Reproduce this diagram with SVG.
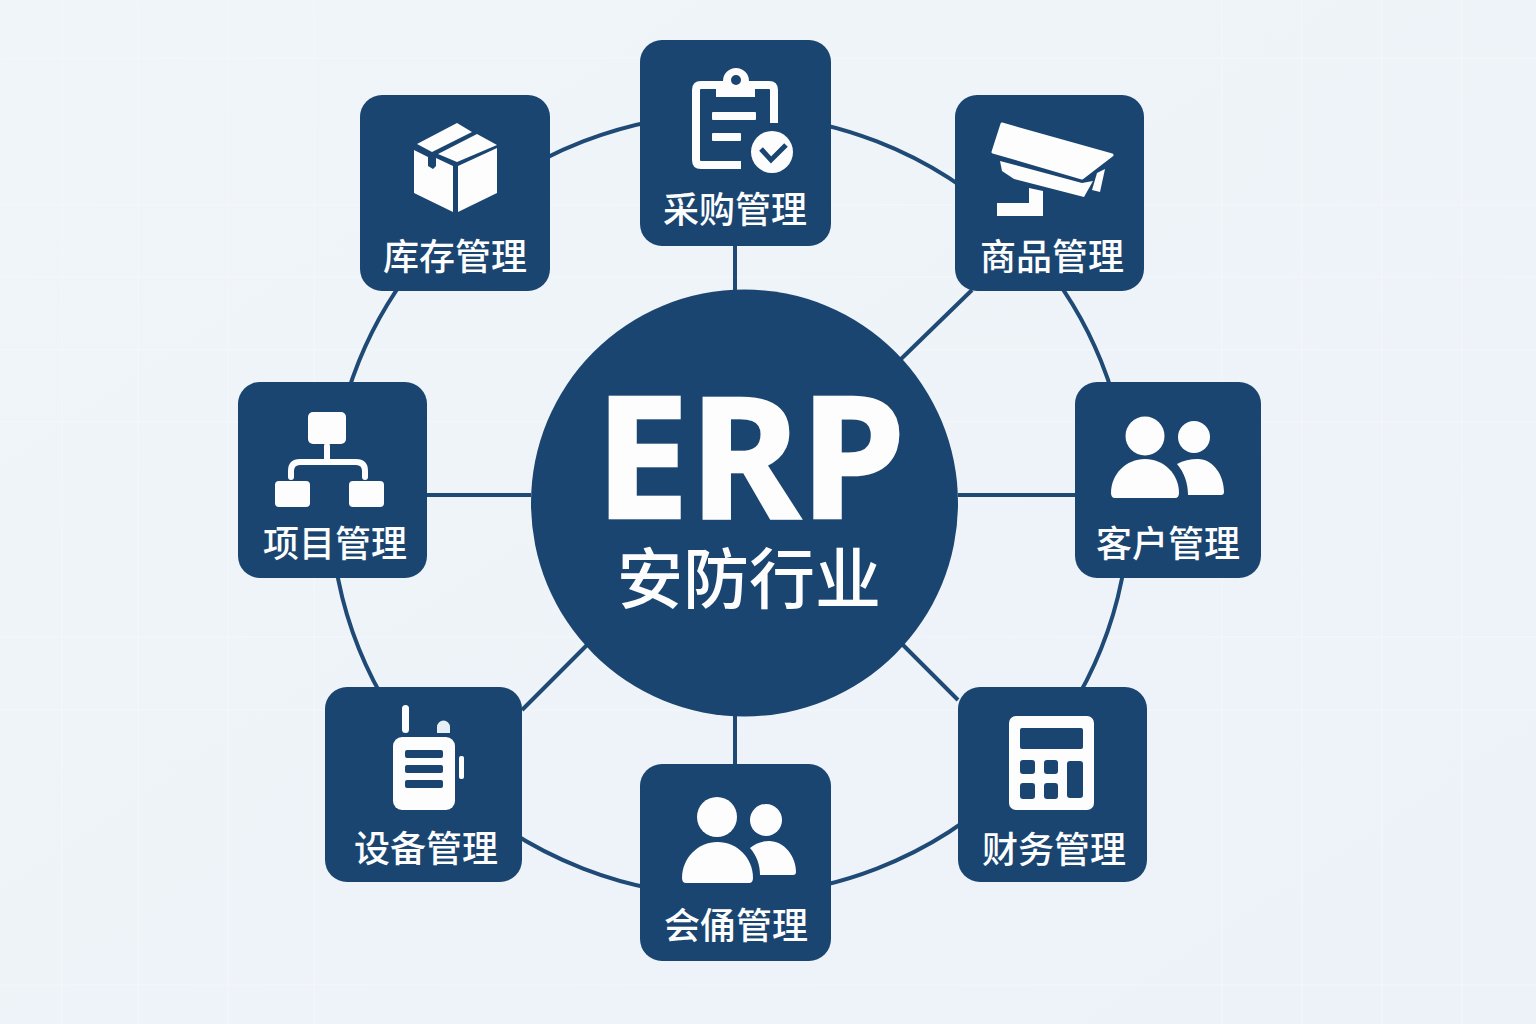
<svg xmlns="http://www.w3.org/2000/svg" width="1536" height="1024" viewBox="0 0 1536 1024">
<style>
.box{fill:#1a4570}
.lk{fill:none;stroke:#1f4a75;stroke-width:4}
.w{fill:#fdfdfe}
.d{fill:#1a4570}
.ws{fill:none;stroke:#fdfdfe}
.lbl{font-family:"Noto Sans CJK SC","Noto Sans",sans-serif;font-size:36px;font-weight:500;fill:#fdfdfe;text-anchor:middle}
</style>
<defs>
<linearGradient id="bg" x1="0" y1="0" x2="1" y2="1"><stop offset="0" stop-color="#f0f5f9"/><stop offset="1" stop-color="#edf2f9"/></linearGradient>
</defs>
<rect width="1536" height="1024" fill="url(#bg)"/>
<path fill="none" stroke="#f4f7fb" stroke-width="1" d="M62 0V1024M138 0V1024M228 0V1024M314 0V1024M1222 0V1024M1302 0V1024M1382 0V1024M1462 0V1024M0 58H1536M0 205H1536M0 277H1536M0 350H1536M0 422H1536M0 637H1536M0 710H1536M0 985H1536"/>
<g id="connectors">
<ellipse class="lk" cx="730" cy="505" rx="399" ry="391"/>
<path class="lk" d="M735 246V292M735 714V764M427 495H531M958 495H1075M972 290L900 360M587 645L522 710M903 645L958 700"/>
</g>
<g id="center">
<circle class="box" cx="744.500" cy="503" r="213.500"/>
<text x="750" y="518" font-family="'Noto Sans',sans-serif" font-size="169" font-weight="700" fill="#fdfdfe" stroke="#fdfdfe" stroke-width="2.500" text-anchor="middle">ERP</text>
<text x="749" y="603" font-family="'Noto Sans CJK SC',sans-serif" font-size="66" font-weight="500" fill="#fdfdfe" text-anchor="middle">安防行业</text>
</g>
<g id="node-purchase">
<rect class="box" x="640" y="40" width="191" height="206" rx="22"/>
<path class="ws" stroke-width="8" stroke-linejoin="round" d="M741 165H701Q696 165 696 160V90Q696 85 701 85H769Q774 85 774 90V123"/>
<path class="w" d="M716 81H723A13 13 0 0 1 749 81H755V97H716Z"/>
<circle class="d" cx="736" cy="80" r="5"/>
<rect class="w" x="712" y="112" width="44" height="8" rx="1"/>
<rect class="w" x="712" y="133" width="29" height="8" rx="1"/>
<circle class="w" cx="772" cy="152" r="21"/>
<path d="M761 149L771 160L786 145" fill="none" stroke="#1a4570" stroke-width="5"/>
<text class="lbl" x="735" y="223">采购管理</text>
</g>
<g id="node-product">
<rect class="box" x="955" y="95" width="189" height="196" rx="22"/>
<path class="w" stroke="#fdfdfe" stroke-width="3" stroke-linejoin="round" d="M1002 124L1112 155L1082 178L993 152Z"/>
<path class="w" d="M1000 161L1082 183L1093 181L1084 197L1014 179L1002 171Z"/>
<path class="w" d="M1097 173L1105 169L1100 192L1092 190Z"/>
<path class="w" d="M1029 188L1043 191V216H997V203H1029Z"/>
<text class="lbl" x="1052" y="270">商品管理</text>
</g>
<g id="node-stock">
<rect class="box" x="360" y="95" width="190" height="196" rx="22"/>
<path class="w" d="M417 144L457 123L472 132L432 152Z"/>
<path class="w" d="M438 154L477 134L497 145L457 162Z"/>
<path class="w" d="M414 150L428 157V166L433 169L436 166V158L453 166V212L414 193Z"/>
<path class="w" d="M458 166L497 148V193L458 212Z"/>
<text class="lbl" x="455" y="270">库存管理</text>
</g>
<g id="node-client">
<rect class="box" x="1075" y="382" width="186" height="196" rx="22"/>
<circle class="w" cx="1145" cy="436" r="19.500"/>
<circle class="w" cx="1194" cy="437" r="16"/>
<path class="w" d="M1115 498H1175Q1179 498 1179 493C1179 474 1164 459 1145 459C1126 459 1111 474 1111 493Q1111 498 1115 498Z"/>
<path class="w" d="M1177 464Q1186 459 1198 459C1213 459 1224 475 1224 492Q1224 495 1221 495H1188C1188 483 1184 472 1177 464Z"/>
<text class="lbl" x="1168" y="557">客户管理</text>
</g>
<g id="node-project">
<rect class="box" x="238" y="382" width="189" height="196" rx="22"/>
<rect class="w" x="308" y="412" width="38" height="32" rx="5"/>
<rect class="w" x="275" y="481" width="35" height="26" rx="4"/>
<rect class="w" x="349" y="481" width="35" height="26" rx="4"/>
<path class="ws" stroke-width="6" stroke-linecap="round" d="M327 446V462M291 477V471Q291 462 300 462H356Q365 462 365 471V477"/>
<text class="lbl" x="335" y="557">项目管理</text>
</g>
<g id="node-device">
<rect class="box" x="325" y="687" width="197" height="195" rx="22"/>
<rect class="w" x="402" y="705" width="7" height="28" rx="3.500"/>
<path d="M437 733V727A6.500 6.500 0 0 1 450 727V733Z" fill="#e6eef6"/>
<rect class="w" x="393" y="737" width="62" height="73" rx="9"/>
<rect class="d" x="405" y="750" width="38" height="8" rx="2"/>
<rect class="d" x="405" y="765" width="38" height="8" rx="2"/>
<rect class="d" x="405" y="780" width="38" height="8" rx="2"/>
<rect class="w" x="459" y="756" width="5" height="23" rx="2"/>
<text class="lbl" x="426" y="862">设备管理</text>
</g>
<g id="node-finance">
<rect class="box" x="958" y="687" width="189" height="195" rx="22"/>
<rect class="w" x="1009" y="716" width="85" height="94" rx="7"/>
<rect class="d" x="1020" y="728" width="63" height="21" rx="2"/>
<rect class="d" x="1020" y="760" width="15" height="14" rx="3"/>
<rect class="d" x="1044" y="760" width="14" height="14" rx="3"/>
<rect class="d" x="1020" y="783" width="15" height="16" rx="3"/>
<rect class="d" x="1044" y="783" width="14" height="16" rx="3"/>
<rect class="d" x="1067" y="761" width="16" height="37" rx="3"/>
<text class="lbl" x="1054" y="863">财务管理</text>
</g>
<g id="node-member">
<rect class="box" x="640" y="764" width="191" height="197" rx="22"/>
<circle class="w" cx="717" cy="817" r="20"/>
<circle class="w" cx="766" cy="820" r="16"/>
<path class="w" d="M686 883H749Q753 883 753 878C753 858 737 842 717.500 842C698 842 682 858 682 878Q682 883 686 883Z"/>
<path class="w" d="M750 848Q758 841 769 841C784 841 796 856 796 872Q796 875 793 875H760C760 865 757 856 750 848Z"/>
<text class="lbl" x="736" y="939">会俑管理</text>
</g>
</svg>
